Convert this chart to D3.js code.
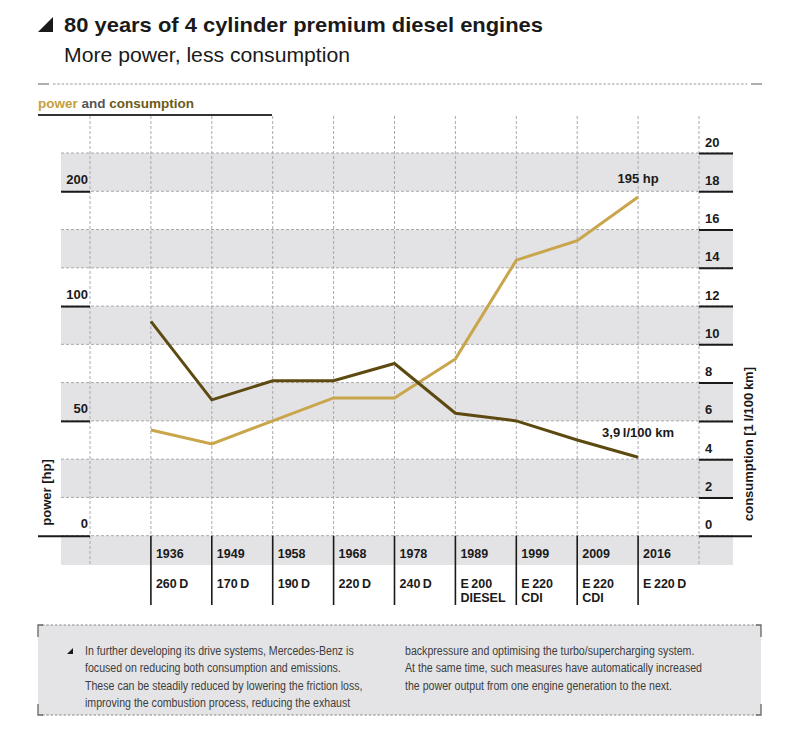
<!DOCTYPE html>
<html>
<head>
<meta charset="utf-8">
<script src="https://cdn.jsdelivr.net/npm/d3@7"></script>
<style>
  html, body { margin: 0; padding: 0; background: #fff; }
  svg { display: block; font-family: "Liberation Sans", Arial, sans-serif; }
</style>
</head>
<body>
<svg id="chart" width="800" height="750"></svg>
<script>
// ---------------- data ----------------
const years = ["1936", "1949", "1958", "1968", "1978", "1989", "1999", "2009", "2016"];
const models = [["260\u2009D"], ["170\u2009D"], ["190\u2009D"], ["220\u2009D"], ["240\u2009D"],
                ["E\u2009200", "DIESEL"], ["E\u2009220", "CDI"], ["E\u2009220", "CDI"], ["E\u2009220\u2009D"]];
const powerHp = [46, 40, 50, 60, 60, 77, 140, 157, 195];
const consumptionL = [11.2, 7.1, 8.1, 8.1, 9.0, 6.4, 6.0, 5.0, 4.1];
const powerTicks = [0, 50, 100, 200];
const consumptionTicks = [0, 2, 4, 6, 8, 10, 12, 14, 16, 18, 20];
const powerBreaks = [0, 50, 100, 200];       // power values aligned to ...
const powerBreakCons = [0, 6, 12, 18];       // ... these consumption grid lines
const title = "80 years of 4 cylinder premium diesel engines";
const subtitle = "More power, less consumption";
const powerNote = "195 hp";
const consNote = "3,9\u2009l/100 km";
const boxCol1 = ["In further developing its drive systems, Mercedes-Benz is",
  "focused on reducing both consumption and emissions.",
  "These can be steadily reduced by lowering the friction loss,",
  "improving the combustion process, reducing the exhaust"];
const boxCol2 = ["backpressure and optimising the turbo/supercharging system.",
  "At the same time, such measures have automatically increased",
  "the power output from one engine generation to the next."];

// ---------------- styles ----------------
const GOLD = "#c9a54b", BROWN = "#5d4a10", BAND = "#e3e3e5", GRID = "#a9a9ab", INK = "#1a1a1a";

const svg = d3.select("#chart");

// scales
const x = d3.scaleLinear().domain([0, years.length + 1]).range([90, 699]);
const yCons = d3.scaleLinear().domain([0, 20]).range([535.7, 153]);
const yPow = d3.scaleLinear().domain(powerBreaks).range(powerBreakCons.map(yCons));
const plotTop = 116, plotBottom = yCons(0), yearRowBottom = 565, sepBottom = 605;
const bandLeft = 61, bandRight = 733;

// ---------------- header ----------------
svg.append("path").attr("d", "M38,32 L53,32 L53,17 Z").attr("fill", INK);
const t = svg.append("text").attr("x", 64).attr("y", 32).attr("font-size", 21).attr("font-weight", "bold")
  .attr("fill", INK).text(title);
const s = svg.append("text").attr("x", 64).attr("y", 62).attr("font-size", 21)
  .attr("fill", INK).text(subtitle);
function fit(sel, w) {
  const n = sel.node().getComputedTextLength();
  if (Math.abs(n - w) > 2) sel.attr("textLength", w).attr("lengthAdjust", "spacingAndGlyphs");
}
fit(t, 479); fit(s, 286);

// separator line
svg.append("line").attr("x1", 38).attr("x2", 49).attr("y1", 84).attr("y2", 84).attr("stroke", "#777").attr("stroke-width", 1.2);
svg.append("line").attr("x1", 53).attr("x2", 747).attr("y1", 84).attr("y2", 84).attr("stroke", "#999").attr("stroke-width", 1.2).attr("stroke-dasharray", "2.5,1.8");
svg.append("line").attr("x1", 751).attr("x2", 762).attr("y1", 84).attr("y2", 84).attr("stroke", "#777").attr("stroke-width", 1.2);

// legend heading
const lg = svg.append("text").attr("x", 38).attr("y", 108).attr("font-size", 13.5).attr("font-weight", "bold");
lg.append("tspan").attr("fill", "#c5a03e").text("power");
lg.append("tspan").attr("fill", "#555").text(" and ");
lg.append("tspan").attr("fill", "#6b5a18").text("consumption");
svg.append("line").attr("x1", 38).attr("x2", 272).attr("y1", 115).attr("y2", 115).attr("stroke", "#333").attr("stroke-width", 1.8);

// ---------------- bands ----------------
const bandPairs = [];
for (let v = 20; v > 0; v -= 4) bandPairs.push([v, v - 2]);
svg.append("g").selectAll("rect").data(bandPairs).join("rect")
  .attr("x", bandLeft).attr("width", bandRight - bandLeft)
  .attr("y", d => yCons(d[0])).attr("height", d => yCons(d[1]) - yCons(d[0]))
  .attr("fill", BAND);
svg.append("rect").attr("x", bandLeft).attr("width", bandRight - bandLeft)
  .attr("y", plotBottom).attr("height", yearRowBottom - plotBottom).attr("fill", BAND);

// horizontal dashed grid
svg.append("g").selectAll("line").data(consumptionTicks).join("line")
  .attr("x1", bandLeft).attr("x2", bandRight)
  .attr("y1", d => yCons(d)).attr("y2", d => yCons(d))
  .attr("stroke", GRID).attr("stroke-width", 1).attr("stroke-dasharray", "3,2");

// vertical dashed grid
const vIdx = d3.range(0, years.length + 2);
svg.append("g").selectAll("line").data(vIdx).join("line")
  .attr("x1", d => x(d)).attr("x2", d => x(d))
  .attr("y1", plotTop)
  .attr("y2", d => (d === 0 || d === years.length + 1) ? yearRowBottom : plotBottom)
  .attr("stroke", GRID).attr("stroke-width", 1).attr("stroke-dasharray", "3,2");

// ---------------- axes ----------------
const axL = svg.append("g").attr("transform", `translate(${x(0)},0)`)
  .call(d3.axisLeft(yPow).tickValues(powerTicks).tickSize(29).tickFormat(d3.format("d")));
axL.select(".domain").remove();
axL.selectAll(".tick line").attr("stroke", INK).attr("stroke-width", 2)
  .attr("x2", d => d === 0 ? -52 : -29);
axL.selectAll(".tick text").attr("x", -2).attr("dy", -8).attr("text-anchor", "end")
  .attr("font-size", 13).attr("font-weight", "bold").attr("fill", INK).attr("font-family", null);

const axR = svg.append("g").attr("transform", `translate(${x(years.length + 1)},0)`)
  .call(d3.axisRight(yCons).tickValues(consumptionTicks).tickSize(34).tickFormat(d3.format("d")));
axR.select(".domain").remove();
axR.selectAll(".tick line").attr("stroke", INK).attr("stroke-width", 2)
  .attr("x2", d => d === 0 ? 53 : 34);
axR.selectAll(".tick text").attr("x", 6).attr("dy", -7).attr("text-anchor", "start")
  .attr("font-size", 13).attr("font-weight", "bold").attr("fill", INK).attr("font-family", null);

// axis titles
svg.append("text").attr("transform", `translate(51,${(458 + 527) / 2}) rotate(-90)`)
  .attr("text-anchor", "middle").attr("font-size", 13).attr("font-weight", "bold").attr("fill", INK)
  .text("power [hp]");
svg.append("text").attr("transform", `translate(753,${(363 + 525) / 2}) rotate(-90)`)
  .attr("text-anchor", "middle").attr("font-size", 13).attr("font-weight", "bold").attr("fill", INK)
  .text("consumption [1\u2009l/100\u2009km]");

// ---------------- x categories ----------------
const xc = svg.append("g");
years.forEach((yr, i) => {
  const cx = x(i + 1);
  xc.append("line").attr("x1", cx).attr("x2", cx).attr("y1", plotBottom).attr("y2", sepBottom)
    .attr("stroke", INK).attr("stroke-width", 1.6);
  xc.append("text").attr("x", cx + 5).attr("y", 558).attr("font-size", 12.5).attr("font-weight", "bold")
    .attr("fill", INK).text(yr);
  models[i].forEach((m, j) => {
    xc.append("text").attr("x", cx + 5).attr("y", 588 + j * 14).attr("font-size", 12.5).attr("font-weight", "bold")
      .attr("fill", INK).text(m);
  });
});

// ---------------- lines ----------------
const linePow = d3.line().x((d, i) => x(i + 1)).y(d => yPow(d));
const lineCons = d3.line().x((d, i) => x(i + 1)).y(d => yCons(d));
svg.append("path").datum(powerHp).attr("d", linePow).attr("fill", "none")
  .attr("stroke", GOLD).attr("stroke-width", 3).attr("stroke-linejoin", "miter");
svg.append("path").datum(consumptionL).attr("d", lineCons).attr("fill", "none")
  .attr("stroke", BROWN).attr("stroke-width", 3).attr("stroke-linejoin", "miter");

// annotations
const last = years.length;
svg.append("text").attr("x", x(last)).attr("y", 183).attr("text-anchor", "middle")
  .attr("font-size", 13).attr("font-weight", "bold").attr("fill", INK).text(powerNote);
svg.append("text").attr("x", x(last)).attr("y", 437).attr("text-anchor", "middle")
  .attr("font-size", 13).attr("font-weight", "bold").attr("fill", INK).text(consNote);

// ---------------- text box ----------------
const bx0 = 38, bx1 = 761, by0 = 625, by1 = 715;
svg.append("rect").attr("x", bx0).attr("y", by0).attr("width", bx1 - bx0).attr("height", by1 - by0).attr("fill", "#e4e4e6");
[by0, by1].forEach(yy => {
  svg.append("line").attr("x1", bx0 + 4).attr("x2", bx1 - 4).attr("y1", yy).attr("y2", yy)
    .attr("stroke", "#888").attr("stroke-width", 1).attr("stroke-dasharray", "2.5,1.8");
});
const corner = "#666";
svg.append("path").attr("d", `M${bx0},${by0 + 12} L${bx0},${by0} L${bx0 + 5},${by0}`).attr("fill", "none").attr("stroke", corner).attr("stroke-width", 1.3);
svg.append("path").attr("d", `M${bx0},${by1 - 11} L${bx0},${by1} L${bx0 + 5},${by1}`).attr("fill", "none").attr("stroke", corner).attr("stroke-width", 1.3);
svg.append("path").attr("d", `M${bx1},${by0 + 12} L${bx1},${by0} L${bx1 - 5},${by0}`).attr("fill", "none").attr("stroke", corner).attr("stroke-width", 1.3);
svg.append("path").attr("d", `M${bx1},${by1 - 11} L${bx1},${by1} L${bx1 - 5},${by1}`).attr("fill", "none").attr("stroke", corner).attr("stroke-width", 1.3);
svg.append("path").attr("d", "M67,654 L73,654 L73,648 Z").attr("fill", INK);

// uniform horizontal condensing so the widest line spans ~297px as in the reference
const allTexts = [];
function para(lines, x0) {
  lines.forEach((ln, i) => {
    const tt = svg.append("text").attr("x", x0).attr("y", 655 + i * 17.3).attr("font-size", 12)
      .attr("fill", "#3d3d3d").text(ln);
    allTexts.push(tt);
  });
}
para(boxCol1, 85);
para(boxCol2, 405);
const widest = d3.max(allTexts, tt => tt.node().getComputedTextLength());
const k = 297 / widest;
allTexts.forEach(tt => {
  const n = tt.node().getComputedTextLength();
  tt.attr("textLength", n * k).attr("lengthAdjust", "spacingAndGlyphs");
});
</script>
</body>
</html>
